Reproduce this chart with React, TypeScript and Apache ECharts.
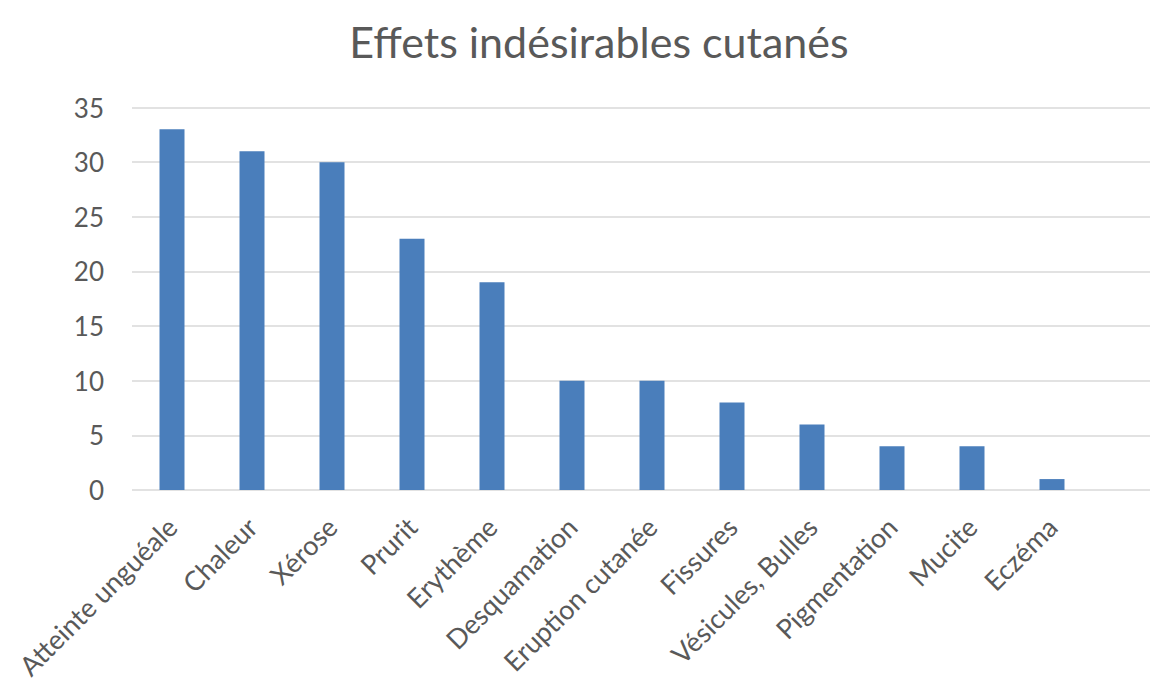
import React, { useEffect, useRef } from "react";
import * as echarts from "echarts";

const categories = [
  "Atteinte unguéale",
  "Chaleur",
  "Xérose",
  "Prurit",
  "Erythème",
  "Desquamation",
  "Eruption cutanée",
  "Fissures",
  "Vésicules, Bulles",
  "Pigmentation",
  "Mucite",
  "Eczéma",
];
const values = [33, 31, 30, 23, 19, 10, 10, 8, 6, 4, 4, 1];
const titleText = "Effets indésirables cutanés";
const yMin = 0;
const yMax = 35;
const yStep = 5;

const FONT = "Lato, 'Open Sans', sans-serif";
const TEXT = "#595959";

export default function App() {
  const ref = useRef<HTMLDivElement>(null);
  useEffect(() => {
    if (!ref.current) return;
    const chart = echarts.init(ref.current, undefined, { renderer: "svg" });
    const top = 107.5;
    const height = 382.5;
    chart.setOption({
      animation: false,
      backgroundColor: "#ffffff",
      title: {
        text: titleText,
        left: 594,
        top: 15,
        textAlign: "center",
        textStyle: { fontFamily: FONT, fontSize: 43, fontWeight: "normal", color: TEXT },
      },
      grid: [
        { left: 132, top, width: 1018, height },
        { left: 132, top, width: 960, height },
      ],
      xAxis: [
        { type: "category", gridIndex: 0, data: [""], show: false },
        {
          type: "category",
          gridIndex: 1,
          data: categories,
          axisLine: { show: false },
          axisTick: { show: false },
          axisLabel: {
            interval: 0,
            rotate: 45,
            margin: 32,
            fontFamily: FONT,
            fontSize: 27,
            color: TEXT,
          },
        },
      ],
      yAxis: [
        {
          type: "value",
          gridIndex: 0,
          min: yMin,
          max: yMax,
          interval: yStep,
          axisLine: { show: false },
          axisTick: { show: false },
          axisLabel: { fontFamily: FONT, fontSize: 26, color: TEXT, margin: 28 },
          splitLine: { lineStyle: { color: "#d9d9d9", width: 1.5 } },
        },
        {
          type: "value",
          gridIndex: 1,
          min: yMin,
          max: yMax,
          interval: yStep,
          show: false,
          splitLine: { show: false },
        },
      ],
      series: [
        {
          type: "bar",
          xAxisIndex: 1,
          yAxisIndex: 1,
          data: values,
          barWidth: 25,
          itemStyle: { color: "#4A7EBB" },
        },
      ],
    });
    return () => chart.dispose();
  }, []);
  return (
    <div
      ref={ref}
      style={{ position: "absolute", left: 0, top: 0, width: 1157, height: 689 }}
    />
  );
}
